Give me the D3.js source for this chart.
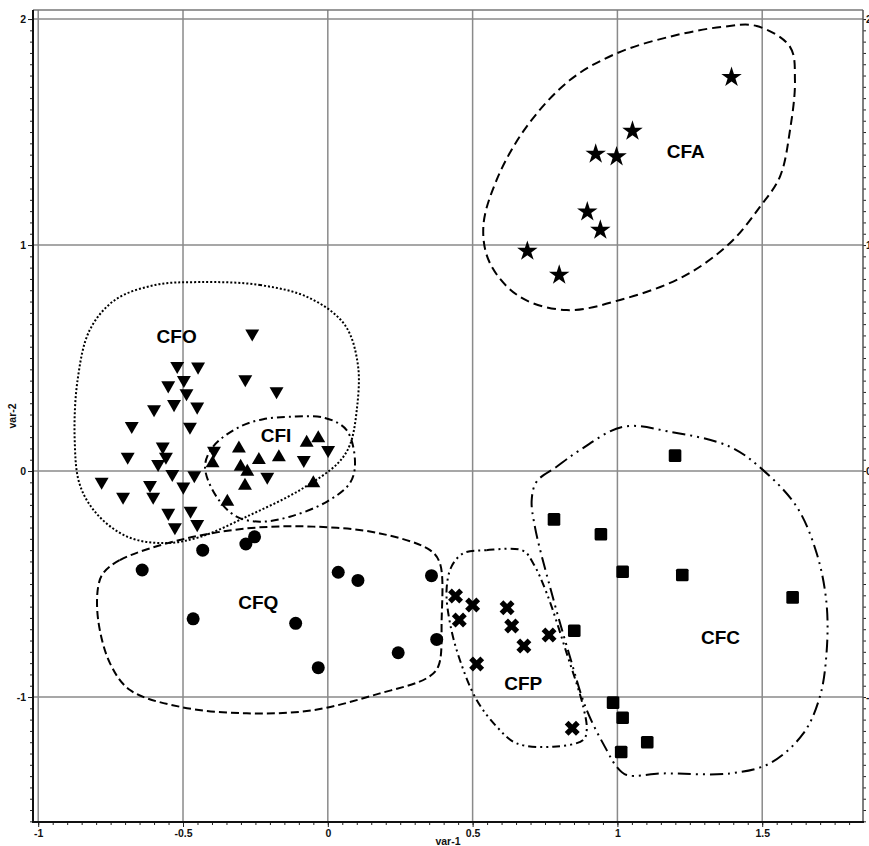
<!DOCTYPE html>
<html><head><meta charset="utf-8">
<script src="https://cdn.jsdelivr.net/npm/d3@7"></script>
<style>
html,body{margin:0;padding:0;background:#fff;}
svg{display:block;font-family:"Liberation Sans",Arial,sans-serif;}
</style></head>
<body><svg id="c" width="869" height="846"></svg>
<script>
// ---------- DATA ----------
const xTickValues = [-1, -0.5, 0, 0.5, 1, 1.5];
const xTickLabels = ["-1", "-0.5", "0", "0.5", "1", "1.5"];
const yTickValues = [-1, 0, 1, 2];
const yTickLabels = ["-1", "0", "1", "2"];
const xTitle = "var-1";
const yTitle = "var-2";

// CFA (stars)
const cfaX = [0.689, 0.799, 0.896, 0.941, 0.925, 0.997, 1.052, 1.394];
const cfaY = [0.973, 0.867, 1.147, 1.066, 1.403, 1.391, 1.504, 1.742];
// CFO (down triangles)
const cfoX = [-0.261,-0.520,-0.448,-0.497,-0.551,-0.285,-0.488,-0.177,-0.531,-0.451,-0.600,-0.677,-0.476,-0.570,-0.691,-0.559,-0.586,-0.393,-0.083,0.001,-0.537,-0.461,-0.209,-0.781,-0.614,-0.499,-0.707,-0.603,-0.551,-0.474,-0.528,-0.451];
const cfoY = [0.609,0.465,0.462,0.403,0.379,0.406,0.344,0.353,0.296,0.285,0.273,0.199,0.196,0.108,0.063,0.063,0.031,0.090,0.049,0.093,-0.013,-0.019,-0.025,-0.047,-0.062,-0.069,-0.114,-0.114,-0.185,-0.176,-0.249,-0.235];
// CFI (up triangles)
const cfiX = [-0.307,-0.238,-0.169,-0.073,-0.033,-0.301,-0.278,-0.398,-0.286,-0.050,-0.347];
const cfiY = [0.100,0.049,0.061,0.125,0.145,0.019,-0.003,0.034,-0.065,-0.054,-0.136];
// CFQ (circles)
const cfqX = [-0.641,-0.432,-0.283,-0.253,-0.465,-0.111,-0.033,0.036,0.104,0.358,0.376,0.243];
const cfqY = [-0.438,-0.350,-0.323,-0.291,-0.654,-0.674,-0.870,-0.448,-0.484,-0.463,-0.745,-0.804];
// CFP (crosses)
const cfpX = [0.441,0.500,0.454,0.619,0.635,0.677,0.764,0.514,0.844];
const cfpY = [-0.553,-0.593,-0.659,-0.605,-0.686,-0.774,-0.726,-0.854,-1.138];
// CFC (squares)
const cfcX = [1.199,0.781,0.943,1.018,1.224,1.605,0.851,0.985,1.018,1.103,1.013];
const cfcY = [0.068,-0.214,-0.280,-0.446,-0.460,-0.559,-0.707,-1.025,-1.092,-1.200,-1.243];

// group outlines (data coordinates)
const hullCFA = [[1.481,1.969],[1.596,1.877],[1.613,1.730],[1.596,1.509],[1.561,1.302],[1.492,1.169],[1.388,1.008],[1.227,0.860],[1.009,0.757],[0.825,0.712],[0.663,0.771],[0.560,0.919],[0.537,1.081],[0.583,1.288],[0.686,1.523],[0.836,1.730],[0.997,1.848],[1.181,1.922],[1.365,1.966]];
const hullCFO = [[-0.442,0.836],[-0.234,0.823],[-0.062,0.765],[0.059,0.646],[0.104,0.469],[0.100,0.270],[0.076,0.115],[0.035,0.035],[-0.096,-0.084],[-0.269,-0.195],[-0.442,-0.292],[-0.563,-0.319],[-0.690,-0.292],[-0.794,-0.195],[-0.856,-0.062],[-0.874,0.137],[-0.864,0.403],[-0.822,0.624],[-0.735,0.757],[-0.597,0.823]];
const hullCFI = [[-0.131,0.240],[-0.010,0.235],[0.065,0.181],[0.094,0.034],[0.076,-0.054],[-0.004,-0.136],[-0.131,-0.202],[-0.234,-0.224],[-0.315,-0.202],[-0.384,-0.114],[-0.424,0.019],[-0.396,0.108],[-0.304,0.196],[-0.223,0.229]];
const hullCFQ = [[-0.776,-0.453],[-0.718,-0.394],[-0.511,-0.305],[-0.280,-0.254],[-0.050,-0.246],[0.180,-0.276],[0.353,-0.350],[0.387,-0.408],[0.393,-0.659],[0.381,-0.866],[0.341,-0.917],[0.180,-0.984],[-0.050,-1.058],[-0.280,-1.072],[-0.511,-1.043],[-0.683,-0.969],[-0.752,-0.851],[-0.793,-0.659],[-0.793,-0.512]];
const hullCFP = [[0.468,-0.364],[0.548,-0.350],[0.675,-0.353],[0.709,-0.408],[0.756,-0.541],[0.825,-0.807],[0.882,-1.043],[0.894,-1.146],[0.882,-1.190],[0.778,-1.220],[0.652,-1.205],[0.583,-1.131],[0.514,-1.013],[0.456,-0.836],[0.422,-0.674],[0.410,-0.527],[0.427,-0.423]];
const hullCFC = [[0.721,-0.047],[0.790,0.019],[0.871,0.093],[1.020,0.196],[1.181,0.174],[1.388,0.108],[1.503,0.004],[1.619,-0.158],[1.688,-0.364],[1.722,-0.585],[1.722,-0.807],[1.699,-0.999],[1.642,-1.161],[1.527,-1.293],[1.389,-1.338],[1.158,-1.338],[1.032,-1.345],[0.997,-1.308],[0.963,-1.235],[0.894,-1.058],[0.836,-0.822],[0.767,-0.512],[0.715,-0.246],[0.704,-0.128]];

const groupNames = ["CFA","CFO","CFI","CFQ","CFP","CFC"];
const labelX = [1.236,-0.522,-0.179,-0.240,0.675,1.356];
const labelY = [1.413,0.597,0.159,-0.583,-0.942,-0.736];

// ---------- DRAW ----------
const svg = d3.select("#c");
const L = 33, R = 863, T = 10, B = 822;
const x = d3.scaleLinear().domain([-1.018, 1.848]).range([L, R]);
const y = d3.scaleLinear().domain([-1.553, 2.040]).range([B, T]);

// grid
const grid = svg.append("g").attr("stroke", "#8a8a8a").attr("stroke-width", 1.5);
xTickValues.forEach(v => grid.append("line").attr("x1", x(v)).attr("x2", x(v)).attr("y1", T).attr("y2", B));
yTickValues.forEach(v => grid.append("line").attr("x1", L).attr("x2", R).attr("y1", y(v)).attr("y2", y(v)));

// outlines
const line = d3.line().x(d => x(d[0])).y(d => y(d[1])).curve(d3.curveCatmullRomClosed.alpha(0.5));
const hulls = [
  [hullCFA, "9,5"],
  [hullCFO, "2,2"],
  [hullCFI, "8,4,2,4"],
  [hullCFQ, "8,4"],
  [hullCFP, "8,4,2,4,2,4"],
  [hullCFC, "13,5,2,5,2,5"]
];
hulls.forEach(([pts, dash]) => {
  svg.append("path").attr("d", line(pts)).attr("fill", "none")
    .attr("stroke", "#000").attr("stroke-width", 2).attr("stroke-dasharray", dash);
});

// markers
const mk = svg.append("g").attr("fill", "#000");
function pts(xs, ys){ return xs.map((v,i)=>[v, ys[i]]); }
mk.selectAll(".star").data(pts(cfaX,cfaY)).join("path")
  .attr("d", d3.symbol(d3.symbolStar, 130))
  .attr("transform", d => `translate(${x(d[0])},${y(d[1])})`);
mk.selectAll(".tdown").data(pts(cfoX,cfoY)).join("path")
  .attr("d", d3.symbol(d3.symbolTriangle, 84))
  .attr("transform", d => `translate(${x(d[0])},${y(d[1])}) rotate(180)`);
mk.selectAll(".tup").data(pts(cfiX,cfiY)).join("path")
  .attr("d", d3.symbol(d3.symbolTriangle, 84))
  .attr("transform", d => `translate(${x(d[0])},${y(d[1])})`);
mk.selectAll(".circ").data(pts(cfqX,cfqY)).join("circle")
  .attr("cx", d => x(d[0])).attr("cy", d => y(d[1])).attr("r", 6.5);
mk.selectAll(".cross").data(pts(cfpX,cfpY)).join("path")
  .attr("d", d3.symbol(d3.symbolCross, 140))
  .attr("transform", d => `translate(${x(d[0])},${y(d[1])}) rotate(45)`);
mk.selectAll(".sq").data(pts(cfcX,cfcY)).join("rect")
  .attr("x", d => x(d[0]) - 6.3).attr("y", d => y(d[1]) - 6.3)
  .attr("width", 12.6).attr("height", 12.6).attr("rx", 1.5);

// group labels
svg.append("g").selectAll("text").data(groupNames).join("text")
  .attr("x", (d,i) => x(labelX[i])).attr("y", (d,i) => y(labelY[i]))
  .attr("text-anchor", "middle").attr("dominant-baseline", "central")
  .attr("font-size", 19).attr("font-weight", "bold").text(d => d);

// axes
const minorX = d3.range(-20, 37).map(i => i*0.05).filter(v => v >= -1.018 && v <= 1.848);
const minorY = d3.range(-31, 41).map(i => i*0.05).filter(v => v >= -1.553 && v <= 2.04);
function styleAxis(g){ g.select(".domain").remove(); g.selectAll("line").attr("stroke","#222").attr("stroke-width",1); g.selectAll("text").attr("font-size",10.5).attr("font-weight","bold").attr("fill","#111").attr("font-family","'Liberation Sans',Arial,sans-serif"); }

// bottom
svg.append("g").attr("transform", `translate(0,${B})`)
  .call(d3.axisBottom(x).tickValues(minorX).tickSize(3).tickFormat(""))
  .call(styleAxis);
svg.append("g").attr("transform", `translate(0,${B})`)
  .call(d3.axisBottom(x).tickValues(xTickValues).tickSize(5).tickPadding(3).tickFormat((d,i)=>xTickLabels[i]))
  .call(styleAxis);
// left
svg.append("g").attr("transform", `translate(${L},0)`)
  .call(d3.axisLeft(y).tickValues(minorY).tickSize(3).tickFormat(""))
  .call(styleAxis);
svg.append("g").attr("transform", `translate(${L},0)`)
  .call(d3.axisLeft(y).tickValues(yTickValues).tickSize(5).tickPadding(2).tickFormat((d,i)=>yTickLabels[i]))
  .call(styleAxis);
// right
svg.append("g").attr("transform", `translate(${R},0)`)
  .call(d3.axisRight(y).tickValues(minorY).tickSize(3).tickFormat(""))
  .call(styleAxis);
svg.append("g").attr("transform", `translate(${R},0)`)
  .call(d3.axisRight(y).tickValues(yTickValues).tickSize(3).tickPadding(0).tickFormat((d,i)=>yTickLabels[i]))
  .call(styleAxis);

// frame
svg.append("line").attr("x1", L).attr("x2", R).attr("y1", T).attr("y2", T).attr("stroke", "#777").attr("stroke-width", 1.5);
svg.append("line").attr("x1", R).attr("x2", R).attr("y1", T).attr("y2", B).attr("stroke", "#555").attr("stroke-width", 1.5);
svg.append("line").attr("x1", L).attr("x2", L).attr("y1", T).attr("y2", B+1).attr("stroke", "#111").attr("stroke-width", 2);
svg.append("line").attr("x1", L-1).attr("x2", R+1).attr("y1", B).attr("y2", B).attr("stroke", "#111").attr("stroke-width", 2);

// titles
svg.append("text").attr("x", (L+R)/2).attr("y", 845).attr("text-anchor","middle")
  .attr("font-size", 10.5).attr("font-weight","bold").attr("fill","#111").text(xTitle);
svg.append("text").attr("transform", `translate(16,${(T+B)/2}) rotate(-90)`).attr("text-anchor","middle")
  .attr("font-size", 10.5).attr("font-weight","bold").attr("fill","#111").text(yTitle);
</script></body></html>
